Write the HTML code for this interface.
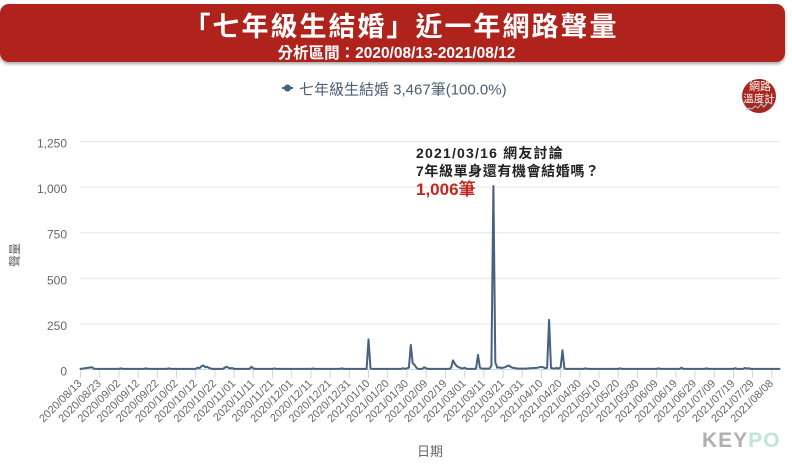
<!DOCTYPE html>
<html><head><meta charset="utf-8"><style>
html,body{margin:0;padding:0;background:#fff;}
svg{display:block;}
text{font-family:"Liberation Sans","Noto Sans CJK TC",sans-serif;}
</style></head><body>
<svg width="792" height="464" viewBox="0 0 792 464" xmlns="http://www.w3.org/2000/svg">
<defs>
<filter id="sh" x="-5%" y="-20%" width="110%" height="150%"><feDropShadow dx="0" dy="2" stdDeviation="1.5" flood-color="#000" flood-opacity="0.35"/></filter>
</defs>
<rect x="0" y="0" width="792" height="464" fill="#fff"/>
<!-- banner -->
<rect x="0" y="4" width="785" height="58" rx="9" fill="#b0241a" filter="url(#sh)"/>
<text x="401" y="36" text-anchor="middle" fill="#fff" font-size="27" font-weight="bold" letter-spacing="2">「七年級生結婚」近一年網路聲量</text>
<text x="396.5" y="58" text-anchor="middle" fill="#fff" font-size="15.5" font-weight="bold">分析區間：2020/08/13-2021/08/12</text>

<!-- legend -->
<line x1="282" y1="88" x2="293" y2="88" stroke="#46627e" stroke-width="2"/>
<circle cx="287.5" cy="88" r="3.5" fill="#46627e"/>
<text x="299" y="94.5" fill="#4a6076" font-size="15">七年級生結婚 3,467筆(100.0%)</text>

<!-- logo circle -->
<circle cx="759" cy="96" r="17" fill="#a8261e"/>
<text x="760" y="90" text-anchor="middle" fill="#fff" font-size="11">網路</text>
<text x="759" y="102" text-anchor="middle" fill="#fff" font-size="10.5">溫度計</text>
<polyline points="746,110 749,108 752,109 755,106 758,108 761,104 764,107 768,102 772,104" fill="none" stroke="#a9cdee" stroke-width="1"/>

<!-- grid -->
<g stroke="#e6e6e6" stroke-width="1">
<line x1="80" y1="141.5" x2="780" y2="141.5"/>
<line x1="80" y1="187.1" x2="780" y2="187.1"/>
<line x1="80" y1="232.7" x2="780" y2="232.7"/>
<line x1="80" y1="278.3" x2="780" y2="278.3"/>
<line x1="80" y1="323.9" x2="780" y2="323.9"/>
</g>
<g fill="#666" font-size="12" text-anchor="end">
<text x="67" y="147.5">1,250</text>
<text x="67" y="193.1">1,000</text>
<text x="67" y="238.7">750</text>
<text x="67" y="284.3">500</text>
<text x="67" y="329.9">250</text>
<text x="67" y="375.5">0</text>
</g>
<text transform="translate(19,255) rotate(-90)" text-anchor="middle" fill="#666" font-size="12">聲量</text>

<!-- x axis -->
<line x1="80" y1="369.5" x2="780" y2="369.5" stroke="#ccd6eb" stroke-width="1"/>
<path stroke="#ccd6eb" stroke-width="1" fill="none" d="M80.5 369.5V378M99.7 369.5V378M118.9 369.5V378M138.1 369.5V378M157.3 369.5V378M176.5 369.5V378M195.7 369.5V378M214.9 369.5V378M234.1 369.5V378M253.3 369.5V378M272.5 369.5V378M291.7 369.5V378M310.9 369.5V378M330.1 369.5V378M349.3 369.5V378M368.5 369.5V378M387.7 369.5V378M406.9 369.5V378M426.2 369.5V378M445.4 369.5V378M464.6 369.5V378M483.8 369.5V378M503 369.5V378M522.2 369.5V378M541.4 369.5V378M560.6 369.5V378M579.8 369.5V378M599 369.5V378M618.2 369.5V378M637.4 369.5V378M656.6 369.5V378M675.8 369.5V378M695 369.5V378M714.2 369.5V378M733.4 369.5V378M752.6 369.5V378M771.8 369.5V378"/>
<g fill="#666" font-size="11" text-anchor="end">
<text transform="translate(82.5,384) rotate(-45)">2020/08/13</text>
<text transform="translate(101.7,384) rotate(-45)">2020/08/23</text>
<text transform="translate(120.9,384) rotate(-45)">2020/09/02</text>
<text transform="translate(140.1,384) rotate(-45)">2020/09/12</text>
<text transform="translate(159.3,384) rotate(-45)">2020/09/22</text>
<text transform="translate(178.5,384) rotate(-45)">2020/10/02</text>
<text transform="translate(197.7,384) rotate(-45)">2020/10/12</text>
<text transform="translate(216.9,384) rotate(-45)">2020/10/22</text>
<text transform="translate(236.1,384) rotate(-45)">2020/11/01</text>
<text transform="translate(255.3,384) rotate(-45)">2020/11/11</text>
<text transform="translate(274.5,384) rotate(-45)">2020/11/21</text>
<text transform="translate(293.7,384) rotate(-45)">2020/12/01</text>
<text transform="translate(312.9,384) rotate(-45)">2020/12/11</text>
<text transform="translate(332.1,384) rotate(-45)">2020/12/21</text>
<text transform="translate(351.3,384) rotate(-45)">2020/12/31</text>
<text transform="translate(370.5,384) rotate(-45)">2021/01/10</text>
<text transform="translate(389.7,384) rotate(-45)">2021/01/20</text>
<text transform="translate(408.9,384) rotate(-45)">2021/01/30</text>
<text transform="translate(428.2,384) rotate(-45)">2021/02/09</text>
<text transform="translate(447.4,384) rotate(-45)">2021/02/19</text>
<text transform="translate(466.6,384) rotate(-45)">2021/03/01</text>
<text transform="translate(485.8,384) rotate(-45)">2021/03/11</text>
<text transform="translate(505,384) rotate(-45)">2021/03/21</text>
<text transform="translate(524.2,384) rotate(-45)">2021/03/31</text>
<text transform="translate(543.4,384) rotate(-45)">2021/04/10</text>
<text transform="translate(562.6,384) rotate(-45)">2021/04/20</text>
<text transform="translate(581.8,384) rotate(-45)">2021/04/30</text>
<text transform="translate(601,384) rotate(-45)">2021/05/10</text>
<text transform="translate(620.2,384) rotate(-45)">2021/05/20</text>
<text transform="translate(639.4,384) rotate(-45)">2021/05/30</text>
<text transform="translate(658.6,384) rotate(-45)">2021/06/09</text>
<text transform="translate(677.8,384) rotate(-45)">2021/06/19</text>
<text transform="translate(697,384) rotate(-45)">2021/06/29</text>
<text transform="translate(716.2,384) rotate(-45)">2021/07/09</text>
<text transform="translate(735.4,384) rotate(-45)">2021/07/19</text>
<text transform="translate(754.6,384) rotate(-45)">2021/07/29</text>
<text transform="translate(773.8,384) rotate(-45)">2021/08/08</text>
</g>
<text x="430" y="456" text-anchor="middle" fill="#666" font-size="13">日期</text>

<!-- series -->
<polyline fill="none" stroke="#46627e" stroke-width="2" stroke-linejoin="round" stroke-linecap="round" points="80.5,368.9 92.0,367.3 93.9,368.6 95.9,368.9 118.9,368.9 120.8,368.4 122.7,368.9 143.9,368.9 145.8,368.4 147.7,368.9 166.9,368.9 168.8,368.4 170.8,368.9 195.7,368.9 197.6,367.7 199.6,368.2 201.5,366.2 203.4,365.5 205.3,367.3 207.2,366.8 209.2,368.0 211.1,368.6 213.0,368.9 222.6,368.9 224.5,367.9 226.4,366.8 228.4,367.7 230.3,368.4 232.2,368.0 234.1,368.9 249.5,368.9 251.4,366.8 253.3,368.4 255.2,368.9 272.5,368.9 274.4,368.5 276.4,368.9 310.9,368.9 312.9,368.5 314.8,368.9 339.7,368.9 341.7,368.4 343.6,368.9 366.6,368.9 368.5,339.4 370.5,368.6 372.4,368.9 401.2,368.9 403.1,368.2 405.0,368.9 408.9,367.7 410.8,344.9 412.7,363.1 414.6,364.9 416.6,368.0 418.5,368.9 422.3,368.9 424.2,367.3 426.2,368.4 428.1,368.9 449.2,368.9 451.1,367.7 453.0,360.4 455.0,364.0 456.9,366.2 458.8,367.3 460.7,368.0 462.6,368.6 464.6,367.7 466.5,368.8 474.2,368.9 476.1,368.4 478.0,354.9 479.9,367.7 481.8,368.6 489.5,368.6 491.4,365.85 493.4,186.0 495.3,362.2 497.2,367.7 499.1,367.3 501.0,368.0 503.0,367.7 504.9,367.3 506.8,366.2 508.7,365.5 510.6,366.8 512.6,367.7 514.5,368.0 516.4,368.4 518.3,368.6 526.0,368.6 529.8,368.2 533.7,368.0 537.5,367.7 541.4,366.8 543.3,367.3 545.2,368.4 547.1,367.7 549.1,319.9 551.0,368.0 552.9,368.4 554.8,368.6 556.7,368.0 558.6,368.6 560.6,367.3 562.5,350.3 564.4,368.4 566.3,368.9 583.6,368.9 585.5,368.4 587.4,368.9 618.2,368.9 620.1,368.4 622.0,368.9 656.6,368.9 658.5,368.4 660.4,368.9 679.6,368.9 681.5,367.7 683.4,368.9 704.6,368.9 706.5,368.4 708.4,368.9 733.4,368.9 735.3,368.2 737.2,368.9 743.0,368.9 744.9,368.0 746.8,368.6 748.7,368.2 750.7,368.9 779.5,368.9"/>

<!-- annotation -->
<text x="416" y="158" fill="#222" font-size="14" font-weight="bold" letter-spacing="1.2">2021/03/16 網友討論</text>
<text x="416" y="176" fill="#222" font-size="14" font-weight="bold" letter-spacing="0.6">7年級單身還有機會結婚嗎？</text>
<text x="416" y="195" fill="#c0281e" font-size="17" font-weight="bold">1,006筆</text>

<!-- KEYPO -->
<text x="702" y="447" font-size="21" font-weight="bold" letter-spacing="1"><tspan fill="#b0b0b0">KEY</tspan><tspan fill="#bfe6d6">PO</tspan></text>
</svg>
</body></html>
